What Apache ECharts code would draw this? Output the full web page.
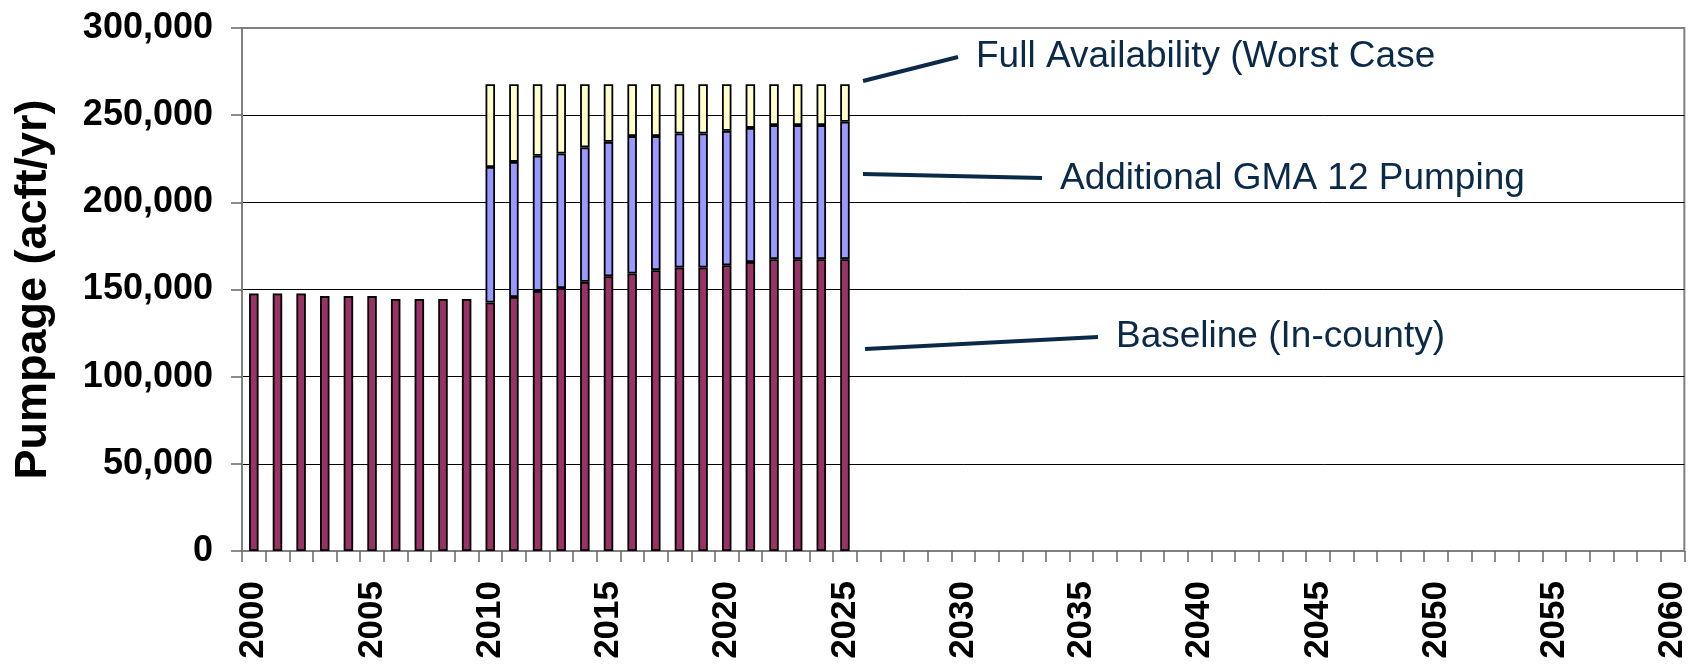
<!DOCTYPE html>
<html>
<head>
<meta charset="utf-8">
<script src="https://cdn.jsdelivr.net/npm/echarts@6/dist/echarts.min.js"></script>
<style>
html,body{margin:0;padding:0;background:#fff;}
#chart{width:1690px;height:671px;}
</style>
</head>
<body>
<div id="chart"></div>
<script>
// Categories: one per year, 2000-2060
const years = [];
for (let y = 2000; y <= 2060; y++) years.push(String(y));

// Stacked segment values (acft/yr); 2000-2025
const baseline = [147700, 147700, 147700, 146200, 146200, 146200, 144600, 144600, 144600, 144600,
                  142500, 145700, 149200, 150900, 154400, 157600, 159200, 161100, 162600, 162600,
                  163900, 165800, 167400, 167400, 167400, 167400];
const additionalGMA12 = [null, null, null, null, null, null, null, null, null, null,
                  77800, 77500, 77500, 77100, 77100, 77100, 78800, 76900, 76900, 76900,
                  77100, 76900, 76900, 76900, 76900, 78800];
const fullAvailability = [null, null, null, null, null, null, null, null, null, null,
                  47500, 44600, 41100, 39800, 36300, 33100, 29800, 29800, 28300, 28300,
                  26800, 25100, 23500, 23500, 23500, 21600];

const yTicks = [0, 50000, 100000, 150000, 200000, 250000, 300000];

const seriesNames = ['Baseline (In-county)', 'Additional GMA 12 Pumping', 'Full Availability (Worst Case'];
const annotationTexts = ['Full Availability (Worst Case', 'Additional GMA 12 Pumping', 'Baseline (In-county)'];

const FONT = '"Liberation Sans", Arial, sans-serif';
const NAVY = '#0b2a4a';

function pad(arr){ const out = arr.slice(); while(out.length < years.length) out.push(null); return out; }

const chart = echarts.init(document.getElementById('chart'), null, {renderer:'canvas'});

const barCommon = {
  type: 'bar', stack: 'total', barWidth: 9.5,
  emphasis: {disabled: true}
};

const option = {
  animation: false,
  backgroundColor: '#fff',
  grid: {left: 242, right: 3, top: 28, bottom: 120, show: true, borderColor: '#808080', borderWidth: 2, backgroundColor: 'transparent'},
  xAxis: {
    type: 'category', data: years, boundaryGap: true,
    axisLine: {lineStyle: {color: '#808080', width: 2}},
    axisTick: {show: true, interval: 0, length: 11, lineStyle: {color: '#666', width: 1.5}},
    axisLabel: {interval: 4, rotate: 90, margin: 30, color: '#000', fontFamily: FONT, fontWeight: 'bold', fontSize: 35},
    splitLine: {show: false}
  },
  yAxis: {
    type: 'value', min: yTicks[0], max: yTicks[yTicks.length-1], interval: yTicks[1]-yTicks[0],
    name: 'Pumpage (acft/yr)', nameLocation: 'middle', nameGap: 186,
    nameTextStyle: {color: '#000', fontFamily: FONT, fontWeight: 'bold', fontSize: 45},
    axisLine: {show: true, lineStyle: {color: '#808080', width: 2}},
    axisTick: {show: true, length: 11, lineStyle: {color: '#666', width: 1.5}},
    axisLabel: {margin: 29, color: '#000', fontFamily: FONT, fontWeight: 'bold', fontSize: 36,
      formatter: v => v.toLocaleString('en-US')},
    splitLine: {show: true, lineStyle: {color: ['#808080','#000','#000','#000','#000','#000','#808080'], width: 1}}
  },
  series: [
    Object.assign({}, barCommon, {name: seriesNames[0], data: pad(baseline), itemStyle: {color: '#993366', borderColor: '#000', borderWidth: 1.8}}),
    Object.assign({}, barCommon, {name: seriesNames[1], data: pad(additionalGMA12), itemStyle: {color: '#9999ff', borderColor: '#000', borderWidth: 1.8}}),
    Object.assign({}, barCommon, {name: seriesNames[2], data: pad(fullAvailability), itemStyle: {color: '#ffffcc', borderColor: '#000', borderWidth: 1.8}})
  ],
  graphic: [
    {type: 'line', shape: {x1: 863, y1: 81, x2: 958, y2: 57}, style: {stroke: NAVY, lineWidth: 4}},
    {type: 'text', x: 976, y: 57, style: {text: annotationTexts[0], font: '37px ' + FONT, fill: NAVY, textVerticalAlign: 'middle'}},
    {type: 'line', shape: {x1: 863, y1: 174, x2: 1042, y2: 178}, style: {stroke: NAVY, lineWidth: 4}},
    {type: 'text', x: 1060, y: 179, style: {text: annotationTexts[1], font: '37px ' + FONT, fill: NAVY, textVerticalAlign: 'middle'}},
    {type: 'line', shape: {x1: 865, y1: 349, x2: 1098, y2: 337}, style: {stroke: NAVY, lineWidth: 4}},
    {type: 'text', x: 1116, y: 337, style: {text: annotationTexts[2], font: '37px ' + FONT, fill: NAVY, textVerticalAlign: 'middle'}}
  ]
};
chart.setOption(option);
</script>
</body>
</html>
